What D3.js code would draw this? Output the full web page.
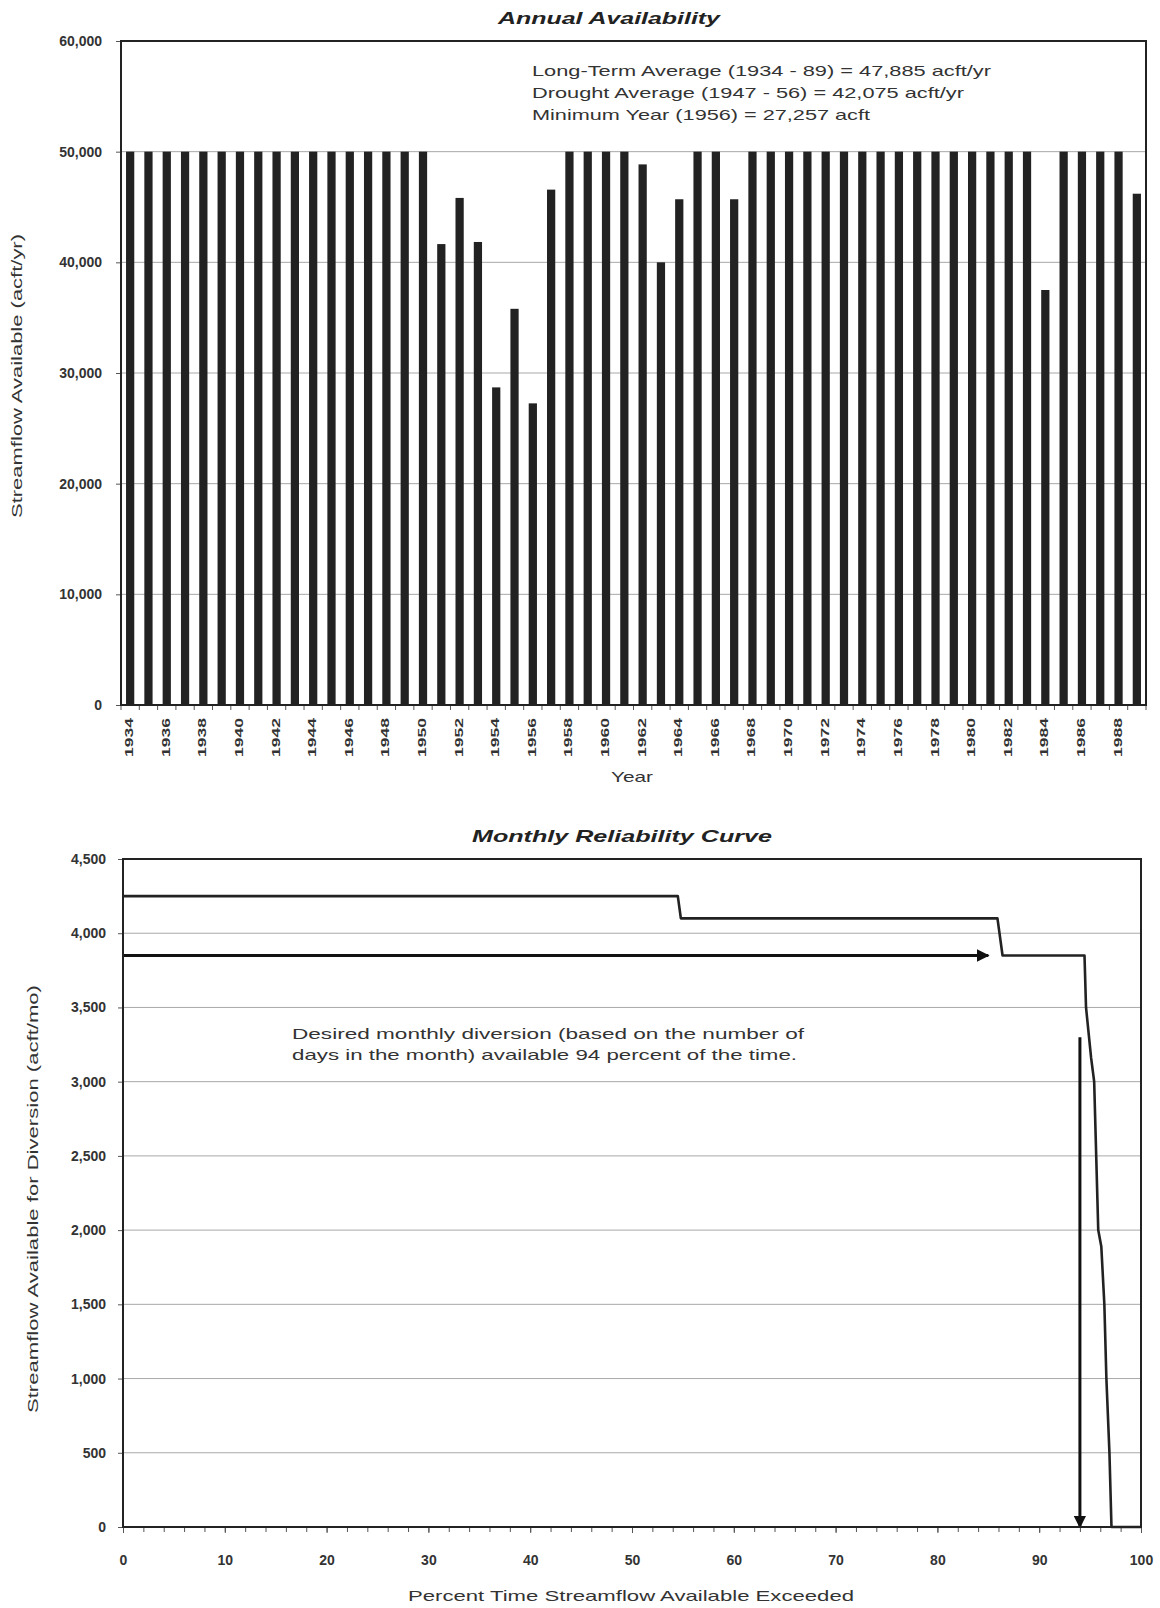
<!DOCTYPE html>
<html>
<head>
<meta charset="utf-8">
<script src="https://cdn.jsdelivr.net/npm/d3@7"></script>
<style>
  html, body { margin: 0; padding: 0; background: #fff; }
  svg { display: block; font-family: "Liberation Sans", Arial, sans-serif; }
</style>
</head>
<body>
<svg id="chart" width="1160" height="1608"></svg>
<script>
// ---------- DATA ----------
const years = d3.range(1934, 1990);
const annualValues = [
  50000, 50000, 50000, 50000, 50000, 50000, 50000, 50000, 50000, 50000, // 1934-43
  50000, 50000, 50000, 50000, 50000, 50000, 50000,                      // 1944-50
  41650, 45820, 41840, 28700, 35800, 27257, 46570,                      // 1951-57
  50000, 50000, 50000, 50000,                                           // 1958-61
  48850, 40000, 45700,                                                  // 1962-64
  50000, 50000,                                                         // 1965-66
  45700,                                                                // 1967
  50000, 50000, 50000, 50000, 50000, 50000, 50000, 50000,               // 1968-75
  50000, 50000, 50000, 50000, 50000, 50000, 50000, 50000,               // 1976-83
  37500,                                                                // 1984
  50000, 50000, 50000, 50000,                                           // 1985-88
  46200                                                                 // 1989
];
const annualTicks = [0, 10000, 20000, 30000, 40000, 50000, 60000];
const annualNotes = [
  "Long-Term Average (1934 - 89) = 47,885 acft/yr",
  "Drought Average (1947 - 56) = 42,075 acft/yr",
  "Minimum Year (1956) = 27,257 acft"
];

const curvePercent = [0, 54.5, 54.8, 85.9, 86.4, 94.45, 94.6, 95.1, 95.4, 95.6, 95.8, 96.1, 96.4, 96.6, 96.9, 97.1, 100];
const curveValues  = [4250, 4250, 4100, 4100, 3850, 3850, 3500, 3160, 3000, 2500, 2000, 1890, 1500, 1000, 500, 0, 0];
const monthlyTicks = [0, 500, 1000, 1500, 2000, 2500, 3000, 3500, 4000, 4500];
const percentTicks = [0, 10, 20, 30, 40, 50, 60, 70, 80, 90, 100];
const diversionValue = 3850;     // horizontal arrow level
const diversionArrowEnd = 85;    // percent where horizontal arrow ends
const reliabilityPercent = 94;   // vertical arrow position
const reliabilityArrowTop = 3300;
const monthlyNotes = [
  "Desired monthly diversion (based on the number of",
  "days in the month) available 94 percent of the time."
];

// ---------- SETUP ----------
const svg = d3.select("#chart");
const ink = "#222";
const grid = "#a8a8a8";
const labelColor = "#333";

svg.append("defs").append("marker")
  .attr("id", "arrowhead")
  .attr("viewBox", "0 0 10 10")
  .attr("refX", 9).attr("refY", 5)
  .attr("markerWidth", 4.2).attr("markerHeight", 4.2)
  .attr("markerUnits", "strokeWidth")
  .attr("orient", "auto")
  .append("path").attr("d", "M0,0 L10,5 L0,10 Z").attr("fill", "#111");

// ---------- TOP CHART ----------
const t = { left: 121, right: 1146, top: 41, bottom: 705 };
const xb = d3.scaleBand().domain(years).range([t.left, t.right]).paddingInner(0.55).paddingOuter(0.275);
const xbFull = d3.scaleBand().domain(years).range([t.left, t.right]);
const yt = d3.scaleLinear().domain([0, 60000]).range([t.bottom, t.top]);

const topG = svg.append("g");

// gridlines
topG.append("g").selectAll("line").data(annualTicks.filter(d => d > 0 && d < 60000)).join("line")
  .attr("x1", t.left).attr("x2", t.right)
  .attr("y1", d => yt(d)).attr("y2", d => yt(d))
  .attr("stroke", grid).attr("stroke-width", 1);

// bars
topG.append("g").selectAll("rect").data(years.map((y, i) => ({ year: y, v: annualValues[i] }))).join("rect")
  .attr("x", d => xb(d.year))
  .attr("width", xb.bandwidth())
  .attr("y", d => yt(d.v))
  .attr("height", d => yt(0) - yt(d.v))
  .attr("fill", ink);

// y axis
const yAxisTop = topG.append("g").attr("transform", `translate(${t.left},0)`)
  .call(d3.axisLeft(yt).tickValues(annualTicks).tickFormat(d3.format(",")).tickSize(5).tickPadding(14));
yAxisTop.select(".domain").remove();
yAxisTop.selectAll("line").attr("stroke", "#555");
yAxisTop.selectAll("text").attr("font-size", 14).attr("font-weight", "bold").attr("fill", labelColor)
  .attr("font-family", "Liberation Sans, Arial, sans-serif");

// x axis ticks at category boundaries
topG.append("g").selectAll("line").data(years.concat([1990])).join("line")
  .attr("x1", d => d === 1990 ? t.right : xbFull(d))
  .attr("x2", d => d === 1990 ? t.right : xbFull(d))
  .attr("y1", t.bottom).attr("y2", t.bottom + 5)
  .attr("stroke", "#555");

// year labels (every other year)
topG.append("g").selectAll("text").data(years.filter(y => (y - 1934) % 2 === 0)).join("text")
  .attr("transform", d => `translate(${xb(d) + xb.bandwidth() / 2 + 3},${t.bottom + 13}) rotate(-90)`)
  .attr("text-anchor", "end")
  .attr("font-size", 11).attr("font-weight", "bold").attr("fill", labelColor)
  .attr("textLength", 39).attr("lengthAdjust", "spacingAndGlyphs")
  .text(d => d);

// frame
topG.append("rect").attr("x", t.left).attr("y", t.top)
  .attr("width", t.right - t.left).attr("height", t.bottom - t.top)
  .attr("fill", "none").attr("stroke", ink).attr("stroke-width", 2);

// title
topG.append("text").attr("x", 609).attr("y", 24).attr("text-anchor", "middle")
  .attr("font-size", 17).attr("font-weight", "bold").attr("font-style", "italic").attr("fill", ink)
  .attr("textLength", 222).attr("lengthAdjust", "spacingAndGlyphs")
  .text("Annual Availability");

// notes
topG.append("g").selectAll("text").data(annualNotes).join("text")
  .attr("x", 532).attr("y", (d, i) => 76 + i * 22)
  .attr("font-size", 15).attr("fill", labelColor)
  .attr("textLength", (d, i) => [459, 432, 338][i]).attr("lengthAdjust", "spacingAndGlyphs")
  .text(d => d);

// axis titles
topG.append("text").attr("transform", `translate(22,376) rotate(-90)`).attr("text-anchor", "middle")
  .attr("font-size", 14).attr("fill", labelColor)
  .attr("textLength", 284).attr("lengthAdjust", "spacingAndGlyphs")
  .text("Streamflow Available (acft/yr)");
topG.append("text").attr("x", 632).attr("y", 782).attr("text-anchor", "middle")
  .attr("font-size", 15).attr("fill", labelColor)
  .attr("textLength", 42).attr("lengthAdjust", "spacingAndGlyphs")
  .text("Year");

// ---------- BOTTOM CHART ----------
const b = { left: 123, right: 1141, top: 859, bottom: 1527 };
const xp = d3.scaleLinear().domain([0, 100]).range([b.left, b.right]);
const ym = d3.scaleLinear().domain([0, 4500]).range([b.bottom, b.top]);
const botG = svg.append("g");

botG.append("g").selectAll("line").data(monthlyTicks.filter(d => d > 0 && d < 4500)).join("line")
  .attr("x1", b.left).attr("x2", b.right)
  .attr("y1", d => ym(d)).attr("y2", d => ym(d))
  .attr("stroke", grid).attr("stroke-width", 1);

const yAxisBot = botG.append("g").attr("transform", `translate(${b.left},0)`)
  .call(d3.axisLeft(ym).tickValues(monthlyTicks).tickFormat(d3.format(",")).tickSize(5).tickPadding(12));
yAxisBot.select(".domain").remove();
yAxisBot.selectAll("line").attr("stroke", "#555");
yAxisBot.selectAll("text").attr("font-size", 14).attr("font-weight", "bold").attr("fill", labelColor)
  .attr("font-family", "Liberation Sans, Arial, sans-serif");

// minor x ticks
const xMinor = botG.append("g").attr("transform", `translate(0,${b.bottom})`)
  .call(d3.axisBottom(xp).tickValues(d3.range(0, 101, 2)).tickSize(5).tickFormat(""));
xMinor.select(".domain").remove();
xMinor.selectAll("line").attr("stroke", "#555");

const xAxisBot = botG.append("g").attr("transform", `translate(0,${b.bottom})`)
  .call(d3.axisBottom(xp).tickValues(percentTicks).tickFormat(d3.format("d")).tickSize(6).tickPadding(22));
xAxisBot.select(".domain").remove();
xAxisBot.selectAll("line").attr("stroke", "#555");
xAxisBot.selectAll("text").attr("font-size", 14).attr("font-weight", "bold").attr("fill", labelColor)
  .attr("font-family", "Liberation Sans, Arial, sans-serif");

// reliability curve
const line = d3.line().x(d => xp(d[0])).y(d => ym(d[1]));
botG.append("path").datum(curvePercent.map((p, i) => [p, curveValues[i]]))
  .attr("d", line).attr("fill", "none").attr("stroke", ink).attr("stroke-width", 2.6)
  .attr("stroke-linejoin", "round");

// arrows
botG.append("line")
  .attr("x1", xp(0)).attr("x2", xp(diversionArrowEnd))
  .attr("y1", ym(diversionValue)).attr("y2", ym(diversionValue))
  .attr("stroke", "#111").attr("stroke-width", 3)
  .attr("marker-end", "url(#arrowhead)");
botG.append("line")
  .attr("x1", xp(reliabilityPercent)).attr("x2", xp(reliabilityPercent))
  .attr("y1", ym(reliabilityArrowTop)).attr("y2", ym(0))
  .attr("stroke", "#111").attr("stroke-width", 3)
  .attr("marker-end", "url(#arrowhead)");

// frame
botG.append("rect").attr("x", b.left).attr("y", b.top)
  .attr("width", b.right - b.left).attr("height", b.bottom - b.top)
  .attr("fill", "none").attr("stroke", ink).attr("stroke-width", 2);

// title
botG.append("text").attr("x", 622).attr("y", 842).attr("text-anchor", "middle")
  .attr("font-size", 17).attr("font-weight", "bold").attr("font-style", "italic").attr("fill", ink)
  .attr("textLength", 300).attr("lengthAdjust", "spacingAndGlyphs")
  .text("Monthly Reliability Curve");

// notes
botG.append("g").selectAll("text").data(monthlyNotes).join("text")
  .attr("x", 292).attr("y", (d, i) => 1039 + i * 21)
  .attr("font-size", 15).attr("fill", labelColor)
  .attr("textLength", (d, i) => [512, 505][i]).attr("lengthAdjust", "spacingAndGlyphs")
  .text(d => d);

// axis titles
botG.append("text").attr("transform", `translate(38,1199) rotate(-90)`).attr("text-anchor", "middle")
  .attr("font-size", 14).attr("fill", labelColor)
  .attr("textLength", 428).attr("lengthAdjust", "spacingAndGlyphs")
  .text("Streamflow Available for Diversion (acft/mo)");
botG.append("text").attr("x", 631).attr("y", 1601).attr("text-anchor", "middle")
  .attr("font-size", 15).attr("fill", labelColor)
  .attr("textLength", 446).attr("lengthAdjust", "spacingAndGlyphs")
  .text("Percent Time Streamflow Available Exceeded");
</script>
</body>
</html>
